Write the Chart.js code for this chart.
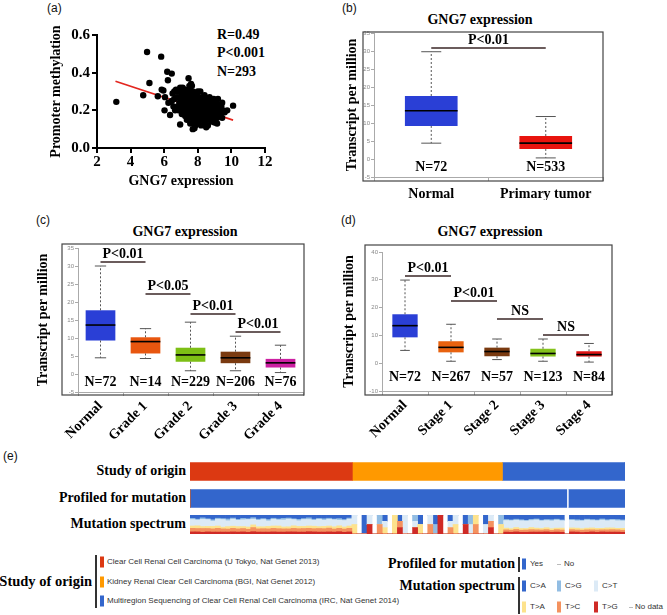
<!DOCTYPE html>
<html>
<head>
<meta charset="utf-8">
<title>GNG7 expression</title>
<script src="https://cdn.jsdelivr.net/npm/chart.js@4.4.1/dist/chart.umd.min.js"></script>
<style>
  body { margin: 0; background: #fff; }
  #page { position: relative; width: 667px; height: 615px; overflow: hidden; font-family: "Liberation Sans", Arial, sans-serif; }
  #page canvas { position: absolute; }
  .t { position: absolute; white-space: nowrap; line-height: 1; }
  .serif { font-family: "Liberation Serif", "Times New Roman", serif; font-weight: bold; font-size: 14px; color: #000; }
  .panel { font-size: 12px; color: #111; }
  .c { transform: translate(-50%, -50%); }
  .r { transform: translate(-100%, -50%); }
  .l { transform: translate(0, -50%); }
  .leg { font-size: 8px; color: #333; }
  .sw { position: absolute; width: 4px; height: 11px; transform: translateY(-50%); }
  .vl { position: absolute; width: 1.5px; background: #333; }
  .dash { position: absolute; width: 4px; height: 1px; background: #bbb; }
</style>
</head>
<body>
<div id="page">
  <div class="t panel l" style="left:47px;top:8px">(a)</div>
  <div class="t panel l" style="left:342px;top:8px">(b)</div>
  <div class="t panel l" style="left:36px;top:220px">(c)</div>
  <div class="t panel l" style="left:341px;top:220px">(d)</div>
  <div class="t panel l" style="left:3px;top:456px">(e)</div>

  <div class="t serif l" style="left:217px;top:35px">R=0.49</div>
  <div class="t serif l" style="left:217px;top:53px">P&lt;0.001</div>
  <div class="t serif l" style="left:217px;top:72px">N=293</div>

  <div class="t serif c" style="left:480px;top:20px">GNG7 expression</div>
  <div class="t serif c" style="left:185px;top:232px">GNG7 expression</div>
  <div class="t serif c" style="left:490px;top:232px">GNG7 expression</div>

  <canvas id="chartA" width="300" height="195" style="left:0;top:0"></canvas>
  <canvas id="chartB" width="333" height="200" style="left:334px;top:0"></canvas>
  <canvas id="chartC" width="334" height="250" style="left:0;top:200px"></canvas>
  <canvas id="chartD" width="333" height="250" style="left:334px;top:200px"></canvas>

  <div class="t serif r" style="left:186px;top:471px">Study of origin</div>
  <div class="t serif r" style="left:186px;top:498px">Profiled for mutation</div>
  <div class="t serif r" style="left:186px;top:524px">Mutation spectrum</div>
  <canvas id="chartRows" width="435" height="54" style="left:190px;top:458px"></canvas>
  <canvas id="chartSpec" width="435" height="19" style="left:190px;top:515px"></canvas>

  <div id="legend"></div>
</div>

<script>
const SERIF = '"Liberation Serif", "Times New Roman", serif';
const SANS = '"Liberation Sans", Arial, sans-serif';

// (a) GNG7 expression vs promoter methylation
const exprValues = [
  3.15, 4.75, 4.98, 5.12, 5.62, 5.82, 5.85, 5.95, 6.05, 6.02, 6.18, 6.22, 6.45, 6.35, 6.25, 6.5, 6.55, 6.6, 6.7, 6.8,
  6.85, 6.9, 6.95, 7.0, 7.05, 7.1, 7.15, 7.2, 7.25, 7.3, 7.35, 7.4, 7.45, 7.5, 7.5, 7.55, 7.55, 7.6, 7.6, 7.65,
  7.7, 7.7, 7.75, 7.75, 7.8, 7.8, 7.85, 7.85, 7.9, 7.9, 7.95, 7.95, 8.0, 8.0, 8.05, 8.05, 8.1, 8.1, 8.15, 8.15,
  8.2, 8.2, 8.25, 8.25, 8.3, 8.3, 8.35, 8.35, 8.4, 8.4, 8.45, 8.45, 8.5, 8.5, 8.55, 8.55, 8.6, 8.6, 8.65, 8.65,
  8.7, 8.7, 8.75, 8.8, 8.8, 8.85, 8.9, 8.9, 8.95, 9.0, 9.0, 9.05, 9.1, 9.15, 9.2, 9.25, 9.3, 9.6, 9.75, 10.1,
  7.0, 7.05, 7.1, 7.15, 7.2, 7.25, 7.3, 7.35, 7.4, 7.4, 7.45, 7.45, 7.5, 7.5, 7.55, 7.55, 7.6, 7.6, 7.65, 7.65,
  7.7, 7.7, 7.75, 7.75, 7.8, 7.8, 7.85, 7.85, 7.9, 7.9, 7.95, 7.95, 8.0, 8.0, 8.05, 8.05, 8.1, 8.1, 8.15, 8.15,
  8.2, 8.2, 8.25, 8.25, 8.3, 8.3, 8.35, 8.35, 8.4, 8.4, 8.45, 8.45, 8.5, 8.5, 8.55, 8.55, 8.6, 8.6, 8.65, 8.65,
  8.7, 8.7, 8.75, 8.75, 8.8, 8.8, 8.85, 8.85, 8.9, 8.9, 8.95, 8.95, 9.0, 9.0, 9.05, 9.05, 9.1, 9.1, 9.15, 9.2,
  9.25, 9.3, 9.35, 9.4, 9.45, 9.5, 7.0, 6.9, 6.8, 6.75, 6.65, 6.6, 6.45, 6.95, 7.1, 7.25, 7.65, 7.35, 7.55, 7.85,
  8.2, 8.6, 9.15, 8.15, 8.4, 8.7, 8.95, 9.2, 9.45, 8.0
];
const methValues = [
  0.245, 0.28, 0.51, 0.345, 0.275, 0.485, 0.31, 0.305, 0.27, 0.20, 0.405, 0.36, 0.395, 0.175, 0.24, 0.29, 0.22, 0.26, 0.31, 0.30,
  0.20, 0.27, 0.125, 0.23, 0.18, 0.30, 0.25, 0.21, 0.17, 0.28, 0.22, 0.19, 0.37, 0.33, 0.26, 0.24, 0.16, 0.34, 0.20, 0.29,
  0.10, 0.23, 0.18, 0.27, 0.105, 0.21, 0.25, 0.15, 0.22, 0.19, 0.28, 0.14, 0.20, 0.24, 0.17, 0.22, 0.26, 0.19, 0.21, 0.15,
  0.23, 0.18, 0.20, 0.27, 0.16, 0.22, 0.19, 0.24, 0.21, 0.13, 0.18, 0.23, 0.11, 0.20, 0.25, 0.17, 0.22, 0.15, 0.19, 0.21,
  0.18, 0.24, 0.16, 0.20, 0.22, 0.14, 0.19, 0.25, 0.17, 0.135, 0.21, 0.18, 0.20, 0.16, 0.23, 0.19, 0.17, 0.19, 0.20, 0.225,
  0.26, 0.29, 0.22, 0.19, 0.27, 0.24, 0.20, 0.26, 0.30, 0.24, 0.21, 0.28, 0.18, 0.23, 0.31, 0.20, 0.26, 0.17, 0.22, 0.19,
  0.30, 0.25, 0.21, 0.14, 0.28, 0.24, 0.19, 0.22, 0.26, 0.16, 0.23, 0.20, 0.27, 0.17, 0.25, 0.13, 0.22, 0.16, 0.24, 0.18,
  0.26, 0.20, 0.17, 0.23, 0.25, 0.19, 0.21, 0.15, 0.24, 0.18, 0.20, 0.26, 0.22, 0.16, 0.19, 0.21, 0.24, 0.18, 0.16, 0.23,
  0.20, 0.15, 0.22, 0.19, 0.17, 0.25, 0.20, 0.23, 0.16, 0.21, 0.19, 0.23, 0.17, 0.25, 0.21, 0.15, 0.18, 0.23, 0.20, 0.17,
  0.21, 0.20, 0.18, 0.22, 0.16, 0.20, 0.20, 0.24, 0.22, 0.27, 0.20, 0.30, 0.25, 0.32, 0.32, 0.31, 0.33, 0.15, 0.13, 0.12,
  0.12, 0.12, 0.13, 0.30, 0.28, 0.27, 0.26, 0.26, 0.24, 0.30
];
const fitX = [3.1, 10.1];
const fitY = [0.355, 0.148];

// (b) normal vs primary tumor
const bCats = ['Normal', 'Primary tumor'];
const bLo = [4.4, 0.3], bQ1 = [9.2, 2.8], bMed = [13.4, 4.4], bQ3 = [17.5, 6.4], bHi = [29.8, 11.8];
const bN = [72, 533];
const bPairs = [[0, 1]], bPY = [30.8], bPText = ['P<0.01'];

// (c) tumour grade
const cCats = ['Normal', 'Grade 1', 'Grade 2', 'Grade 3', 'Grade 4'];
const cLo = [4.5, 4.3, 0.9, 0.9, 0.4], cQ1 = [9.3, 5.7, 3.4, 3.0, 1.8], cMed = [13.6, 9.0, 5.3, 4.5, 3.1];
const cQ3 = [17.7, 10.2, 7.3, 6.2, 4.2], cHi = [30, 12.6, 14.4, 10.5, 8.0];
const cN = [72, 14, 229, 206, 76];
const cPairs = [[0, 1], [1, 2], [2, 3], [3, 4]], cPY = [31.1, 22.2, 16.7, 11.7];
const cPText = ['P<0.01', 'P<0.05', 'P<0.01', 'P<0.01'];

// (d) tumour stage
const dCats = ['Normal', 'Stage 1', 'Stage 2', 'Stage 3', 'Stage 4'];
const dLo = [4.6, 0.7, 1.3, 0.7, 0.4], dQ1 = [9.3, 3.9, 2.5, 2.4, 2.4], dMed = [13.5, 5.7, 4.2, 3.5, 3.1];
const dQ3 = [17.6, 7.9, 5.6, 5.2, 4.3], dHi = [29.9, 14.0, 8.7, 8.7, 7.1];
const dN = [72, 267, 57, 123, 84];
const dPairs = [[0, 1], [1, 2], [2, 3], [3, 4]], dPY = [31.4, 22.4, 15.9, 10.1];
const dPText = ['P<0.01', 'P<0.01', 'NS', 'NS'];

// (e) cBioPortal overview
const studyNames = [
  'Clear Cell Renal Cell Carcinoma (U Tokyo, Nat Genet 2013)',
  'Kidney Renal Clear Cell Carcinoma (BGI, Nat Genet 2012)',
  'Multiregion Sequencing of Clear Cell Renal Cell Carcinoma (IRC, Nat Genet 2014)'
];
const studyCounts = [106, 98, 80];
const profiledSegments = [246, 1, 37];
const profiledStatus = ['Yes', 'No', 'Yes'];

const mutTypes = ['C>A', 'C>G', 'C>T', 'T>A', 'T>C', 'T>G'];
// per sample group: U Tokyo (32), BGI (30), IRC (24)
const mutCA = [18,22,15,20,25,17,19,21,16,23,18,20,14,22,19,24,17,21,18,16,20,23,19,15,22,18,20,17,21,19,24,16,
  0,0,1,0,0,0,1,0,0,1,0,0,0,1,0,0,1,0,0,1,0,0,1,0,0,0,1,0,0,0,
  24,26,22,25,28,23,21,27,24,25,22,26,0,23,25,27,22,24,26,21,25,23,24,26];
const mutCG = [6,5,8,4,7,6,5,9,6,5,7,4,8,6,5,7,6,5,8,6,4,7,5,9,6,5,7,6,4,8,5,6,
  0,0,0,0,0,1,0,0,0,0,0,0,1,0,0,0,1,0,0,0,0,0,0,1,0,0,0,0,0,1,
  5,4,6,5,4,6,5,4,5,6,5,4,0,5,6,4,5,5,4,6,5,4,6,5];
const mutCT = [34,30,38,36,28,35,40,31,37,33,36,39,30,34,38,29,35,32,37,40,33,30,36,34,31,38,33,35,37,30,34,36,
  1,0,0,1,0,0,1,0,0,0,1,0,1,0,0,1,0,0,0,1,1,0,0,1,0,0,1,1,0,0,
  40,42,38,41,39,37,43,40,38,41,42,39,0,40,38,41,42,39,40,43,38,41,40,39];
const mutTA = [12,14,10,11,13,12,9,13,11,12,10,12,14,11,10,13,12,14,10,11,13,12,11,12,13,10,12,11,12,13,11,12,
  1,0,0,0,0,0,1,0,1,0,0,0,0,1,0,0,0,0,0,0,1,0,0,0,1,0,0,0,0,1,
  9,8,10,9,8,11,9,8,10,9,8,10,0,9,10,8,9,10,9,8,10,9,8,10];
const mutTC = [19,18,20,18,17,20,17,16,19,17,18,16,22,17,18,17,19,18,17,16,19,18,19,18,17,19,18,20,16,18,17,19,
  0,0,0,0,0,1,0,0,0,1,0,0,0,0,0,1,0,0,0,1,0,0,0,0,1,0,0,1,0,0,
  12,11,13,11,12,13,12,11,12,10,13,12,0,12,11,12,13,11,12,11,12,13,12,11];
const mutTG = [11,11,9,11,10,10,10,10,11,10,11,9,12,10,10,10,11,10,10,11,11,10,10,12,11,10,10,11,10,12,9,11,
  0,0,0,1,0,0,0,0,0,1,0,0,1,0,0,0,0,1,0,0,0,0,1,0,0,0,0,1,0,0,
  10,9,11,9,9,10,10,10,11,9,10,9,0,11,10,8,9,11,9,11,10,10,10,9];

const studyColors = ['#dc3912', '#ff9900', '#3366cc'];
const mutColors = ['#3366cc', '#92bde3', '#dceaf6', '#fde28c', '#f4925f', '#cf2a26'];

const baseOpts = {
  responsive: false,
  animation: false,
  plugins: { legend: { display: false }, tooltip: { enabled: false } }
};

// ---- (a) scatter ----
new Chart(document.getElementById('chartA'), {
  type: 'scatter',
  data: {
    datasets: [
      { type: 'line', data: fitX.map((x, i) => ({ x, y: fitY[i] })), borderColor: '#e3261f', borderWidth: 1.6, pointRadius: 0, order: 2 },
      { data: exprValues.map((x, i) => ({ x, y: methValues[i] })), backgroundColor: '#000', pointRadius: 3.2, borderWidth: 0, order: 1 }
    ]
  },
  options: {
    ...baseOpts,
    layout: { padding: { left: 48, top: 35, right: 35, bottom: 5 } },
    scales: {
      x: {
        type: 'linear', min: 2, max: 12,
        ticks: { stepSize: 2, font: { family: SERIF, weight: 'bold', size: 15 }, color: '#000', padding: 0 },
        grid: { drawOnChartArea: false, tickLength: 5, color: '#000', lineWidth: 2 },
        border: { color: '#000', width: 2 },
        title: { display: true, text: 'GNG7 expression', font: { family: SERIF, weight: 'bold', size: 14 }, color: '#000', padding: 0 },
        afterFit(s) { s.height = 42; }
      },
      y: {
        min: 0, max: 0.6,
        ticks: { stepSize: 0.2, callback: v => v.toFixed(1), font: { family: SERIF, weight: 'bold', size: 15 }, color: '#000', padding: 2 },
        grid: { drawOnChartArea: false, tickLength: 5, color: '#000', lineWidth: 2 },
        border: { color: '#000', width: 2 },
        title: { display: true, text: 'Promoter methylation', font: { family: SERIF, weight: 'bold', size: 14 }, color: '#000', padding: 0 },
        afterFit(s) { s.width = 49; }
      }
    }
  }
});

// ---- box plots (b, c, d) ----
function boxPlot(id, d, lay) {
  const extras = {
    id: 'boxExtras',
    afterDatasetsDraw(chart) {
      const ctx = chart.ctx, x = chart.scales.x, y = chart.scales.y;
      const bars = chart.getDatasetMeta(0).data;
      ctx.save();
      bars.forEach((bar, i) => {
        const cx = bar.x, w = bar.width, cap = w * 0.38;
        const pTop = y.getPixelForValue(d.q3[i]), pBot = y.getPixelForValue(d.q1[i]);
        const pHi = y.getPixelForValue(d.hi[i]), pLo = y.getPixelForValue(d.lo[i]);
        ctx.strokeStyle = '#555';
        ctx.lineWidth = 1;
        ctx.setLineDash([2, 2]);
        ctx.beginPath();
        ctx.moveTo(cx, pTop); ctx.lineTo(cx, pHi);
        ctx.moveTo(cx, pBot); ctx.lineTo(cx, pLo);
        ctx.stroke();
        ctx.setLineDash([]);
        ctx.beginPath();
        ctx.moveTo(cx - cap / 2, pHi); ctx.lineTo(cx + cap / 2, pHi);
        ctx.moveTo(cx - cap / 2, pLo); ctx.lineTo(cx + cap / 2, pLo);
        ctx.stroke();
        const pm = y.getPixelForValue(d.med[i]);
        ctx.strokeStyle = '#000';
        ctx.lineWidth = 1.6;
        ctx.beginPath();
        ctx.moveTo(cx - w / 2, pm); ctx.lineTo(cx + w / 2, pm);
        ctx.stroke();
      });
      ctx.fillStyle = '#000';
      ctx.font = 'bold 14px ' + SERIF;
      ctx.textAlign = 'center';
      ctx.textBaseline = 'middle';
      d.cats.forEach((c, i) => {
        ctx.fillText('N=' + d.n[i], x.getPixelForValue(i), y.getPixelForValue(lay.nAt));
      });
      d.pairs.forEach(([a, b], k) => {
        const xa = x.getPixelForValue(a), xb = x.getPixelForValue(b), py = y.getPixelForValue(d.pY[k]);
        ctx.strokeStyle = '#3a2626';
        ctx.lineWidth = 1.5;
        ctx.beginPath();
        ctx.moveTo(xa, py); ctx.lineTo(xb, py);
        ctx.stroke();
        ctx.textBaseline = 'alphabetic';
        ctx.fillText(d.pText[k], (xa + xb) / 2, py - 4);
      });
      ctx.restore();
    },
    afterDraw(chart) {
      const ctx = chart.ctx, ca = chart.chartArea, f = lay.frame;
      ctx.save();
      ctx.strokeStyle = '#444';
      ctx.lineWidth = 1.2;
      ctx.strokeRect(ca.left - f[0], ca.top - f[1], ca.right - ca.left + f[0] + f[2], ca.bottom - ca.top + f[1] + f[3]);
      ctx.restore();
    }
  };
  return new Chart(document.getElementById(id), {
    type: 'bar',
    data: {
      labels: d.cats,
      datasets: [{
        data: d.cats.map((c, i) => [d.q1[i], d.q3[i]]),
        backgroundColor: d.colors,
        borderWidth: 0,
        barPercentage: lay.box,
        categoryPercentage: 1
      }]
    },
    options: {
      ...baseOpts,
      layout: { padding: { left: lay.left, top: lay.top, right: lay.right, bottom: 0 } },
      scales: {
        x: {
          grid: { drawOnChartArea: false, tickLength: 4, color: '#aaa', offset: true },
          border: { color: '#aaa' },
          ticks: {
            font: { family: SERIF, weight: 'bold', size: 14 }, color: '#000', padding: lay.xPad,
            autoSkip: false, minRotation: lay.rot, maxRotation: lay.rot
          },
          afterFit(s) { s.height = lay.xH; }
        },
        y: {
          min: lay.min, max: lay.max,
          ticks: { stepSize: lay.step, font: { family: SANS, size: 6 }, color: '#888', padding: 1 },
          grid: { drawOnChartArea: false, tickLength: 3, color: '#aaa' },
          border: { color: '#aaa' },
          title: { display: true, text: 'Transcript per million', font: { family: SERIF, weight: 'bold', size: 14 }, color: '#000', padding: 0 },
          afterFit(s) { s.width = lay.yW; }
        }
      }
    },
    plugins: [extras]
  });
}

boxPlot('chartB',
  { cats: bCats, lo: bLo, q1: bQ1, med: bMed, q3: bQ3, hi: bHi, n: bN, pairs: bPairs, pY: bPY, pText: bPText,
    colors: ['#2a3fd6', '#e8140e'] },
  { left: 10, top: 33, right: 64, yW: 30, xH: 23, xPad: 5, rot: 0, min: -5, max: 35, step: 5, box: 0.46, nAt: -2.2, frame: [11, 1, 0, 4] });

boxPlot('chartC',
  { cats: cCats, lo: cLo, q1: cQ1, med: cMed, q3: cQ3, hi: cHi, n: cN, pairs: cPairs, pY: cPY, pText: cPText,
    colors: ['#2a3fd6', '#e8560f', '#7dbf15', '#7a3a10', '#cc20a2'] },
  { left: 35, top: 48, right: 31, yW: 43, xH: 58, xPad: 2, rot: 45, min: -5, max: 35, step: 5, box: 0.66, nAt: -2.2, frame: [16, 4, 1, 3] });

boxPlot('chartD',
  { cats: dCats, lo: dLo, q1: dQ1, med: dMed, q3: dQ3, hi: dHi, n: dN, pairs: dPairs, pY: dPY, pText: dPText,
    colors: ['#2a3fd6', '#e8620f', '#7a3a10', '#84c21c', '#e01212'] },
  { left: 7, top: 52, right: 55, yW: 41, xH: 59, xPad: 2, rot: 45, min: -10, max: 40, step: 10, box: 0.55, nAt: -5, frame: [17, 7, 0, 4] });

// ---- (e) study of origin / profiled rows ----
const totalSamples = studyCounts.reduce((a, b) => a + b, 0);
const rowDatasets = studyCounts.map((v, i) => ({ data: [v, 0], backgroundColor: studyColors[i] }))
  .concat(profiledSegments.map((v, i) => ({ data: [0, v], backgroundColor: profiledStatus[i] === 'Yes' ? '#3366cc' : '#ffffff' })));
new Chart(document.getElementById('chartRows'), {
  type: 'bar',
  data: { labels: ['Study of origin', 'Profiled for mutation'], datasets: rowDatasets.map(ds => ({ ...ds, borderWidth: 0, barThickness: 18 })) },
  options: {
    ...baseOpts,
    indexAxis: 'y',
    layout: { padding: 0 },
    scales: {
      x: { stacked: true, min: 0, max: totalSamples, display: false },
      y: { stacked: true, display: false }
    }
  }
});

// ---- (e) mutation spectrum ----
const mutSeries = [mutCA, mutCG, mutCT, mutTA, mutTC, mutTG];
const colTotals = mutCA.map((_, j) => mutSeries.reduce((s, arr) => s + arr[j], 0));
const specDatasets = mutSeries.map((arr, k) => ({
  data: arr.map((v, j) => colTotals[j] ? v / colTotals[j] * 100 : 0),
  backgroundColor: mutColors[k],
  borderWidth: 0,
  barPercentage: 1,
  categoryPercentage: 1
})).reverse();
new Chart(document.getElementById('chartSpec'), {
  type: 'bar',
  data: { labels: mutCA.map((_, j) => String(j + 1)), datasets: specDatasets },
  options: {
    ...baseOpts,
    layout: { padding: 0 },
    scales: {
      x: { stacked: true, display: false },
      y: { stacked: true, min: 0, max: 100, display: false }
    }
  }
});

// ---- legend for (e) ----
const legend = document.getElementById('legend');
function add(html) { legend.insertAdjacentHTML('beforeend', html); }
add('<div class="t serif r" style="left:92px;top:581px;font-size:14.5px">Study of origin</div>');
add('<div class="vl" style="left:95px;top:555px;height:53px"></div>');
studyNames.forEach((name, i) => {
  const y = 562 + i * 19.5;
  add(`<div class="sw" style="left:100px;top:${y}px;background:${studyColors[i]}"></div>`);
  add(`<div class="t leg l" style="left:107px;top:${y}px">${name}</div>`);
});
add('<div class="t serif r" style="left:515px;top:564px">Profiled for mutation</div>');
add('<div class="vl" style="left:518px;top:557px;height:15px"></div>');
add('<div class="sw" style="left:522px;top:564px;background:#3366cc"></div>');
add('<div class="t leg l" style="left:530px;top:564px">Yes</div>');
add('<div class="dash" style="left:557px;top:564px"></div>');
add('<div class="t leg l" style="left:564px;top:564px">No</div>');
add('<div class="t serif r" style="left:515px;top:586px">Mutation spectrum</div>');
add('<div class="vl" style="left:518px;top:577px;height:37px"></div>');
const swX = [522, 557, 594];
mutTypes.forEach((m, k) => {
  const y = k < 3 ? 586 : 607, xs = swX[k % 3];
  add(`<div class="sw" style="left:${xs}px;top:${y}px;background:${mutColors[k]}"></div>`);
  add(`<div class="t leg l" style="left:${xs + 8}px;top:${y}px">${m.replace('>', '&gt;')}</div>`);
});
add('<div class="dash" style="left:629px;top:607px"></div>');
add('<div class="t leg l" style="left:635px;top:607px">No data</div>');
</script>
</body>
</html>
